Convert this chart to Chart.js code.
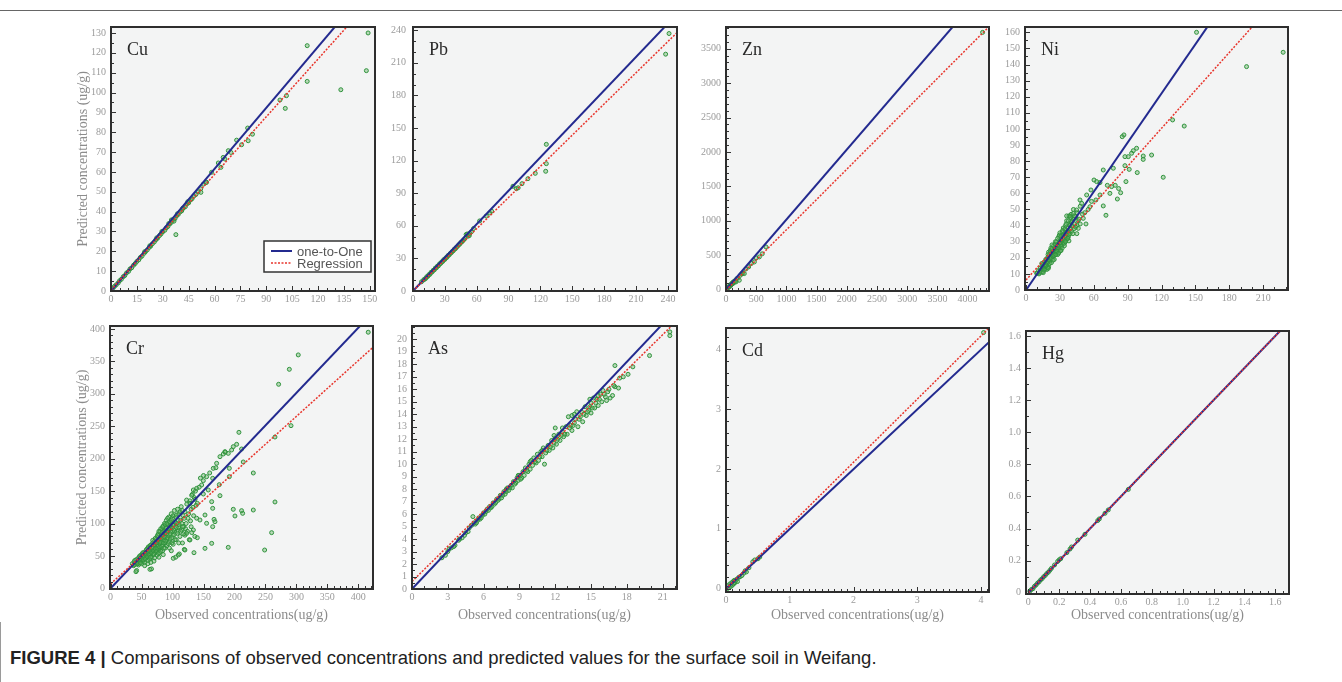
<!DOCTYPE html>
<html>
<head>
<meta charset="utf-8">
<script src="https://cdn.jsdelivr.net/npm/chart.js@4.4.1/dist/chart.umd.min.js"></script>
<style>
  body { margin: 0; background: #fff; width: 1342px; height: 682px; position: relative; overflow: hidden; }
  .topline { position: absolute; left: 0; top: 10px; width: 1342px; border-top: 1px solid #666; }
  .capbox { position: absolute; left: 0; top: 622px; width: 1342px; height: 60px; border-left: 1px solid #9a9a9a; }
  .caption { position: absolute; left: 10px; top: 647px; font-family: "Liberation Sans", Arial, sans-serif; font-size: 18.5px; color: #222; white-space: nowrap; }
  .caption b { font-weight: bold; }
  canvas { position: absolute; }
</style>
</head>
<body>
<div class="topline"></div>
<div class="capbox"></div>
<div class="caption"><b>FIGURE 4 |</b> Comparisons of observed concentrations and predicted values for the surface soil in Weifang.</div>

<script>
// [observed, predicted] pairs
const cuPoints = [
  [1.2,1.5],[2,2.3],[3,3.1],[4.2,4.1],[5,5.2],[6,5.9],[7.1,7.2],[8,7.8],[9,9.1],[10.2,9.9],[11,11.1],[12,11.7],
  [13.1,13],[14,13.8],[15,14.9],[16.1,15.7],[17,16.9],[18,17.6],[19.2,19],[20,19.8],[21,20.7],[22.1,21.9],[23,22.6],
  [24,23.8],[25.1,24.7],[26,25.8],[27,26.6],[28.1,27.9],[29,28.7],[30,29.8],[31.2,30.6],[32,31.8],[33,32.5],[34.1,33.8],
  [35,34.6],[36,35.9],[37.1,36.5],[38,37.8],[39,38.6],[40.2,39.9],[41,40.4],[42,41.8],[43.1,42.5],[44,43.9],[45,44.4],
  [46.2,45.9],[47,46.5],[48,47.8],[49.2,48.6],[50.5,49.9],[52,51.5],[53.5,53.8],[55,54.6],[36.5,35.2],[35,35.8],
  [38.5,38.9],[33.5,34],[41.5,41.6],[44.5,45],[29.5,30],[26.5,26.8],[22.5,22.8],[19.5,19.8],
  [37.6,28.4],[52.1,49.7],[55.4,54.8],[58.3,59.8],[62.2,64.5],[63.7,62.3],[65,67.3],[66,66.5],[68,70.7],[69.5,69.8],
  [72.8,76],[75.7,73.7],[79.2,82.1],[79.5,75.7],[82,79],[97.9,96.2],[101.7,98.4],[101,92],[113.7,123.6],
  [113.7,105.6],[133.2,101.4],[148,111],[149,130]
];
const pbPoints = [
  [8,8.5],[10,10.2],[11,11],[12,11.6],[13,13.2],[14,13.5],[15,15.1],[16,15.4],[17,17.2],[18,17.5],[19,19],[20,19.4],
  [21,21.1],[22,21.3],[23,22.9],[24,23.2],[25,25],[26,25.3],[27,26.8],[28,27.2],[29,28.9],[30,29.1],[31,30.6],[32,31],
  [33,32.7],[34,33.1],[35,34.5],[36,35.2],[37,36.4],[38,37.1],[39,38.6],[40,39],[41,40.4],[42,41.2],[43,42.5],[44,43.1],
  [45,44.6],[46,45.2],[47,46.3],[48,47.4],[49,48.5],[50,52],[51,52.5],[52,50.5],[53,51],[53.5,53],[55,54.5],[57,57.5],
  [62.7,64.5],[69,69],[72.2,71.8],[74,73.5],[94.1,96.4],[97.3,94.2],[99,95],[102.6,98.8],[108.2,103.4],[115.1,108.3],
  [124.9,110.2],[125.5,117.2],[125.5,135],[237.8,218],[241,237]
];
const znPoints = [
  [20,18],[30,25],[40,38],[50,40],[60,55],[70,50],[75,68],[80,70],[90,75],[95,88],[100,90],[110,85],[115,105],
  [120,110],[130,100],[140,125],[150,120],[165,112],[180,160],[200,170],[220,136],[240,210],[260,230],[280,240],
  [303,233],[330,300],[375,330],[420,380],[469,402],[500,460],[552,475],[600,520],[662,620],[4248,3737]
];
const niPoints = [
  [10,10.5],[11,12],[12,11],[12.5,13.5],[13,12.2],[14,14.8],[14.5,13],[15,16],[15.5,14.2],[16,15.5],[16.5,17.5],
  [17,16],[17.5,14.8],[18,18.5],[18.5,16.8],[19,20],[19.5,17.6],[20,19],[20.5,21.5],[21,18],[21.5,20.5],[22,22.8],
  [22.5,19.5],[23,21.6],[23.5,24.2],[24,20.8],[24.5,23],[25,25.8],[25.5,22.2],[26,24.5],[26.5,27],[27,23.5],
  [27.5,26],[28,28.5],[28.5,25],[29,27.4],[29.5,30.2],[30,26],[30.5,28.8],[31,31.6],[31.5,27.2],[32,30],[32.5,33.5],
  [33,29],[33.5,31.6],[34,35],[34.5,30.5],[35,33],[35.5,37],[36,31.8],[36.5,34.4],[37,38.6],[37.5,33],[38,36],
  [38.5,40.5],[39,35],[39.5,38],[40,42],[40.5,36.5],[41,39.6],[42,44],[42.5,38],[43,41],[44,45.5],[45,40],[46,43],
  [23,28],[26,30],[29,33],[32,36],[35,40],[25,19],[28,22],[31,24.5],[34,27.5],[38,30.5],[20,14.5],[17,13.2],
  [15,11.5],[18.5,12.8],[22,26],[20,23.5],[30,35.5],[36,43],[38,46],[40,47],[33,38.5],
  [11.5,10],[13.5,11],[14,16.5],[16,12.5],[17.5,19],[18,15],[19,14],[19.5,22],[21,16.5],[21.5,24.5],[22.5,17],
  [23,25.5],[24,18.5],[24.5,27.5],[25,21.5],[26,28.5],[26.5,22],[27,30],[27.5,24],[28,32],[29,23],[29.5,34],
  [30,29.5],[30.5,24.5],[31,33.5],[32,26],[32.5,37],[33,34],[34,29],[34.5,38],[35,30],[35.5,41],[36,36],[37,32],
  [37.5,43],[38,34.5],[39,40],[39.5,45],[41,43],[41.5,35],[43,46],[44,39],[45,48],[47,44],[48,52],[45,35],[50,47],
  [48,41],[42,50],[36,46],
  [151,160],[227.7,147.6],[195.3,138.7],[129.8,105.6],[140.1,101.8],[121.5,70],[111.2,83.8],[103.8,83.2],
  [103.8,81.1],[97.9,88],[95,86.5],[93.5,84.9],[90.6,82.8],[87.6,82.8],[86.7,96.3],[85.2,95.2],[87.6,77.2],
  [91.4,74.9],[88.5,67.3],[98.5,72.9],[83.8,60.4],[80.9,56.5],[77.3,75.6],[75.8,64.2],[74.3,60],[70.8,46.4],
  [68.4,74.5],[65.5,66.7],[62.5,67.3],[60.2,68.3],[57.5,62.1],[65.5,59],[68.4,52.2],[61.9,55.9],[53.7,59],
  [49.3,53.8],[47.8,55.9],[53.1,41],[44.8,49.7],[41.9,47.6],[38.9,45.9],[40.4,42.4],[50.7,44.5],[46.3,38.3],
  [56.6,51.7],[15.3,10.8],[19.8,13.5],[9.4,10.4],[79,65],[82,63],[72,65],[58,55],[55,50],[52,48]
];
const crPoints = [
  [35,38],[37,35],[38,41],[40,37],[41,44],[42,27.5],[43,40],[44,46],[45,36],[45,42],
  [46,48],[47,40],[48,44],[49,51],[50,38],[50,46],[51,53],[52,42],[53,49],[54,55],[55,45],[55,40],
  [56,52],[57,58],[58,47],[59,55],[60,62],[60,43],[61,50],[62,57],[63,64],[63,45],[64,53],[65,60],[65,67],[66,30],[66,48],
  [67,56],[68,63],[68,70],[69,52],[70,59],[70,66],[71,73],[71,47],[72,55],[73,62],[73,69],[74,76],[75,58],[75,51],[75,80],
  [76,65],[77,72],[77,84],[78,60],[79,69],[79,55],[80,76],[80,88],[81,63],[82,82],[82,71],[83,92],[84,58],[84,67],[85,78],[85,96],
  [86,74],[87,85],[87,100],[88,62],[88,70],[89,80],[90,93],[90,105],[91,76],[91,66],[92,88],[93,98],[93,82],[94,110],[95,72],[95,91],
  [96,84],[97,102],[98,95],[98,115],[99,78],[100,88],[100,108],[101,68],[102,98],[103,120],[103,83],[104,92],[105,110],[105,48],
  [106,75],[107,100],[108,122],[109,88],[110,95],[110,115],[111,53],[112,80],[113,105],[114,126],[115,90],[116,70],
  [117,112],[118,95],[119,60],[120,118],[120,82],[122,100],[123,130],[124,88],[125,108],[127,75],[128,135],[130,95],
  [130,122],[131,86],[132,145],[134,112],[135,140],[136,80],[137,150],[138,128],
  [38,36],[39,43],[42,39],[44,38],[46,44],[47,50],[48,39],[49,46],[51,48],[52,55],[53,44],[54,50],[56,46],[57,53],
  [58,60],[59,49],[60,56],[61,64],[62,52],[63,58],[64,66],[64,48],[66,55],[67,62],[68,74],[69,58],[70,53],[71,68],
  [72,77],[72,61],[74,57],[74,70],[76,82],[76,62],[77,54],[78,75],[78,88],[79,64],[80,71],[81,92],[81,57],[82,77],
  [83,65],[83,86],[84,95],[85,70],[86,62],[86,88],[87,79],[88,98],[89,73],[89,90],[90,84],[91,100],[92,78],[92,108],
  [93,69],[94,92],[95,103],[96,76],[96,96],[97,88],[98,105],[99,70],[100,98],[101,112],[101,82],[102,90],[104,102],
  [104,75],[106,113],[106,94],[108,85],[109,105],[111,98],[112,118],[113,88],[115,100],[116,120],[118,84],[119,108],
  [121,92],[126,115],[129,104],[133,125],[110,70],[95,62],[85,52],[98,58],[78,48],[70,42],[60,38],[55,35],[65,40],
  [416,395],[303,360],[288.6,337.8],[271.3,314.7],[291.3,250.9],[265.4,233.4],[265.4,133.2],[260,85.9],[248.7,59.1],
  [230.4,120.8],[230.4,177.9],[214.2,194.9],[211.5,214.9],[207.2,240.6],[203.5,222.1],[198.1,218.5],[195.4,213.4],
  [190,208.2],[184.6,210.8],[182,207.2],[176.6,203.1],[191.7,185.1],[191.7,172.2],[198.1,121.9],[200.8,111.6],
  [211.5,119.8],[213.2,115.7],[190,63.2],[171.2,192.8],[165.8,185.1],[164.8,169.7],[163.2,133.7],[164.8,123.4],
  [167,106.4],[168.5,102.8],[164.8,95.1],[163.2,69.4],[175.5,159.9],[176.6,142.9],[155,172.2],[149.7,166.1],
  [147,159.4],[149.7,145.5],[157.7,151.7],[152.4,113.1],[155,100.3],[152.4,61.7],[138.9,154.2],[133.6,151.7],
  [130.9,143.4],[136.3,137.3],[140,131.1],[128.1,131.1],[122.7,136.2],[138.9,108.2],[144.3,105.4],[133.6,90],
  [140,78.1],[134.6,55],[120,59.1],[109.3,51.4],[101.2,46.3],[116.3,95.1],[122.7,84.8],[128.1,74.6],[63.5,29.3],
  [40.9,25.7],[185,210],[143,156],[145,170],[160,178],[170,186],[150,174]
];
const asPoints = [
  [2.5,2.5],[2.8,2.7],[3,3],[3.3,3.3],[3.6,3.5],[3.9,3.9],[4.2,4.1],[4.5,4.5],[4.8,4.9],[5,5.1],[5.1,5.8],[5.3,5.2],
  [5.5,5.5],[5.7,5.6],[5.9,5.9],[6,6.1],[6.2,6.2],[6.4,6.3],[6.5,6.6],[6.7,6.6],[6.8,6.9],[7,6.9],[7.1,7.2],[7.3,7.2],
  [7.4,7.5],[7.6,7.5],[7.7,7.8],[7.9,7.8],[8,8.1],[8.1,7.9],[8.3,8.3],[8.4,8.1],[8.5,8.6],[8.7,8.5],[8.8,8.9],[8.9,8.7],
  [9,9.1],[9.2,8.9],[9.3,9.4],[9.4,9.1],[9.5,9.7],[9.7,9.4],[9.8,10],[9.9,9.6],[10,10.3],[10.1,9.9],[10.2,10.5],
  [10.4,10.1],[10.5,10.8],[10.6,10.3],[10.8,11],[10.9,10.6],[11,11.3],[11.1,10],[11.2,10.9],[11.4,11.5],[11.5,11.1],
  [11.7,11.9],[11.8,11.3],[12,12.1],[12,12.9],[12.1,11.6],[12.3,12.4],[12.4,11.9],[12.6,12.6],[12.7,12.2],[12.9,13],
  [13,12.4],[13.1,13.8],[13.2,12.9],[13.4,13.9],[13.4,12.7],[13.6,13.3],[13.8,14.2],[13.9,13],[14,13.6],[14.2,14.2],
  [14.3,13.4],[14.5,14.6],[14.6,13.9],[14.8,14.3],[15,14.9],[15,14.1],[15.2,15.3],[15.3,14.5],[15.5,15.2],[15.6,14.7],
  [15.8,15.6],[15.9,15],[16,15.9],[16.2,15.4],[16.4,15.8],[16.6,15.3],[16.8,15.5],[17,17.9],[17,16.2],[17.3,16.1],
  [17.4,16.9],[17.7,17],[18.1,17.2],[18.5,17.8],[19.9,18.7],[21.6,20.3],[21.6,20.6],
  [3.1,3.2],[3.5,3.4],[4,4],[4.4,4.3],[4.7,4.6],[5.2,5.3],[5.4,5.3],[5.6,5.7],[5.8,5.7],[6.1,6],[6.3,6.4],[6.6,6.5],
  [6.9,6.8],[7.2,7.1],[7.5,7.3],[7.8,7.6],[8.2,8.1],[8.6,8.4],[9.1,8.8],[9.6,9.5],[10.3,10.2],[10.7,10.6],[11.3,11.1],
  [11.6,11.4],[11.9,11.7],[12.2,12],[12.5,12.3],[12.8,12.4],[13.3,13.1],[13.5,13.1],[13.7,13.6],[14.1,13.8],[14.4,14],
  [14.7,14.2],[14.9,14.6],[15.1,14.5],[15.4,14.9],[15.7,15.2],[16.1,15.6],[16.3,15.1],[16.5,16],[16.9,16.3],[12.6,12.9],
  [11.9,12.3],[10.9,11.1],[9.9,10.2],[8.9,9.1],[7.9,8],[13.6,14],[14.9,15.2],[15.6,15.5]
];
const cdPoints = [
  [0.02,0],[0.03,0.05],[0.05,0.02],[0.06,0.08],[0.08,0.04],[0.09,0.1],[0.1,0.06],[0.11,0.12],[0.12,0.08],[0.13,0.14],
  [0.14,0.1],[0.15,0.13],[0.17,0.16],[0.18,0.12],[0.2,0.19],[0.22,0.2],[0.25,0.22],[0.28,0.26],[0.3,0.3],[0.32,0.28],
  [0.36,0.35],[0.42,0.45],[0.45,0.48],[0.5,0.5],[0.53,0.53],[4.04,4.28]
];
const hgPoints = [
  [0.01,0.01],[0.02,0.02],[0.03,0.025],[0.04,0.04],[0.05,0.048],[0.06,0.06],[0.07,0.068],[0.08,0.08],[0.09,0.088],
  [0.1,0.1],[0.11,0.108],[0.12,0.12],[0.13,0.128],[0.14,0.14],[0.15,0.152],[0.17,0.173],[0.19,0.195],[0.2,0.205],
  [0.21,0.212],[0.25,0.25],[0.27,0.272],[0.28,0.285],[0.32,0.328],[0.367,0.364],[0.45,0.45],[0.46,0.46],
  [0.497,0.495],[0.518,0.516],[0.648,0.644]
];

// line end points [observed, predicted]
const cuOneToOne = [[0,0],[153,156.9]];
const cuRegression = [[0,0.5],[153,148.9]];
const pbOneToOne = [[0,0],[248.5,255]];
const pbRegression = [[0,0],[248.5,237.8]];
const znOneToOne = [[0,0],[4354,4428]];
const znRegression = [[0,-10],[4354,3820]];
const niOneToOne = [[0,0],[232,236]];
const niRegression = [[0,6.2],[232,188.3]];
const crOneToOne = [[0,0],[424,426]];
const crRegression = [[0,7],[424,372]];
const asOneToOne = [[0,0],[22.2,22.45]];
const asRegression = [[0,0.6],[22.2,21.5]];
const cdOneToOne = [[0,0],[4.125,4.12]];
const cdRegression = [[0,0],[4.125,4.356]];
const hgOneToOne = [[0,0],[1.7,1.7]];
const hgRegression = [[0,0],[1.7,1.7]];

// tick values
const cuXTicks = [0,15,30,45,60,75,90,105,120,135,150];
const cuYTicks = [0,10,20,30,40,50,60,70,80,90,100,110,120,130];
const pbTicks = [0,30,60,90,120,150,180,210,240];
const znXTicks = [0,500,1000,1500,2000,2500,3000,3500,4000];
const znYTicks = [0,500,1000,1500,2000,2500,3000,3500];
const niXTicks = [0,30,60,90,120,150,180,210];
const niYTicks = [0,10,20,30,40,50,60,70,80,90,100,110,120,130,140,150,160];
const crTicks = [0,50,100,150,200,250,300,350,400];
const asXTicks = [0,3,6,9,12,15,18,21];
const asYTicks = [0,1,2,3,4,5,6,7,8,9,10,11,12,13,14,15,16,17,18,19,20];
const cdTicks = [0,1,2,3,4];
const hgTicks = [0,0.2,0.4,0.6,0.8,1.0,1.2,1.4,1.6];
const hgTickLabels = ['0','0.2','0.4','0.6','0.8','1.0','1.2','1.4','1.6'];

const panels = [
  { name: 'Cu', box: [111, 27, 375, 291], x: [0, 153], y: [0, 133], xTicks: cuXTicks, yTicks: cuYTicks, xMinor: 5, yMinor: 5,
    pts: cuPoints, line11: cuOneToOne, reg: cuRegression, yTitle: true, legend: true },
  { name: 'Pb', box: [413, 27, 677, 291], x: [0, 248.5], y: [0, 243], xTicks: pbTicks, yTicks: pbTicks, xMinor: 10, yMinor: 10,
    pts: pbPoints, line11: pbOneToOne, reg: pbRegression, yPad: 7 },
  { name: 'Zn', box: [726, 27, 989, 291], x: [0, 4354], y: [-20, 3815], xTicks: znXTicks, yTicks: znYTicks, xMinor: 100, yMinor: 100,
    pts: znPoints, line11: znOneToOne, reg: znRegression },
  { name: 'Ni', box: [1025, 27, 1288, 290], x: [-0.9, 232], y: [0, 163.3], xTicks: niXTicks, yTicks: niYTicks, xMinor: 10, yMinor: 5,
    pts: niPoints, line11: niOneToOne, reg: niRegression },
  { name: 'Cr', box: [110, 326, 373, 589], x: [-1, 423.7], y: [-1, 404.6], xTicks: crTicks, yTicks: crTicks, xMinor: 10, yMinor: 10,
    pts: crPoints, line11: crOneToOne, reg: crRegression, yTitle: true, xTitle: true },
  { name: 'As', box: [412, 326, 677, 589], x: [0, 22.2], y: [0, 21.07], xTicks: asXTicks, yTicks: asYTicks, xMinor: 1, yMinor: 0.5,
    pts: asPoints, line11: asOneToOne, reg: asRegression, xTitle: true },
  { name: 'Cd', box: [726, 328, 989, 592], x: [0, 4.125], y: [-0.055, 4.356], xTicks: cdTicks, yTicks: cdTicks, xMinor: 0.1, yMinor: 0.2,
    pts: cdPoints, line11: cdOneToOne, reg: cdRegression, xTitle: true },
  { name: 'Hg', box: [1026, 331, 1289, 594], x: [-0.015, 1.689], y: [-0.008, 1.631], xTicks: hgTicks, yTicks: hgTicks, xMinor: 0.05, yMinor: 0.1,
    pts: hgPoints, line11: hgOneToOne, reg: hgRegression, xTitle: true, labels: hgTickLabels }
];

const toXY = arr => arr.map(p => ({ x: p[0], y: p[1] }));

const panelDeco = {
  id: 'panelDeco',
  beforeDatasetsDraw(chart) {
    const a = chart.chartArea, ctx = chart.ctx;
    ctx.save();
    ctx.fillStyle = '#f3f4f4';
    ctx.fillRect(a.left, a.top, a.right - a.left, a.bottom - a.top);
    ctx.restore();
  },
  afterDatasetsDraw(chart, args, opts) {
    const a = chart.chartArea, ctx = chart.ctx;
    const xs = chart.scales.x, ys = chart.scales.y;
    ctx.save();
    ctx.strokeStyle = '#333';
    ctx.lineWidth = 1;
    ctx.beginPath();
    for (let k = Math.ceil(xs.min / opts.xMinor - 1e-6); k * opts.xMinor <= xs.max + 1e-9; k++) {
      const v = k * opts.xMinor;
      const major = opts.xTicks.some(t => Math.abs(t - v) < opts.xMinor / 10);
      const px = Math.round(xs.getPixelForValue(v)) + 0.5;
      ctx.moveTo(px, a.bottom);
      ctx.lineTo(px, a.bottom - (major ? 5 : 3));
    }
    for (let k = Math.ceil(ys.min / opts.yMinor - 1e-6); k * opts.yMinor <= ys.max + 1e-9; k++) {
      const v = k * opts.yMinor;
      const major = opts.yTicks.some(t => Math.abs(t - v) < opts.yMinor / 10);
      const py = Math.round(ys.getPixelForValue(v)) + 0.5;
      ctx.moveTo(a.left, py);
      ctx.lineTo(a.left + (major ? 5 : 3), py);
    }
    ctx.stroke();

    ctx.lineWidth = 2;
    ctx.strokeStyle = '#2e2e2e';
    ctx.strokeRect(a.left, a.top, a.right - a.left, a.bottom - a.top);

    ctx.fillStyle = '#2a2a2a';
    ctx.font = '18px "Liberation Serif"';
    ctx.textBaseline = 'middle';
    ctx.fillText(opts.name, a.left + 16, a.top + 23);

    if (opts.legend) {
      const bw = 107, bh = 31;
      const bx = a.right - 4 - bw, by = a.bottom - 19 - bh;
      ctx.fillStyle = '#fff';
      ctx.fillRect(bx, by, bw, bh);
      ctx.lineWidth = 1.5;
      ctx.strokeStyle = '#333';
      ctx.strokeRect(bx, by, bw, bh);
      const items = [chart.data.datasets[1], chart.data.datasets[0]];
      items.forEach((ds, i) => {
        const ly = by + 10 + i * 12;
        ctx.beginPath();
        ctx.setLineDash(ds.borderDash || []);
        ctx.strokeStyle = ds.borderColor;
        ctx.lineWidth = ds.borderWidth;
        ctx.moveTo(bx + 7, ly);
        ctx.lineTo(bx + 28, ly);
        ctx.stroke();
        ctx.setLineDash([]);
        ctx.fillStyle = '#555';
        ctx.font = '13px "Liberation Sans"';
        ctx.fillText(ds.label, bx + 33, ly + 1);
      });
    }
    ctx.restore();
  }
};

function makeChart(p) {
  const yW = p.yTitle ? 40 : 30;
  const padTop = 10, padRight = 14;
  const xH = p.xTitle ? 628 - p.box[3] : 20;
  const w = yW + (p.box[2] - p.box[0]) + padRight;
  const h = padTop + (p.box[3] - p.box[1]) + xH;

  const canvas = document.createElement('canvas');
  canvas.width = w;
  canvas.height = h;
  canvas.style.left = (p.box[0] - yW) + 'px';
  canvas.style.top = (p.box[1] - padTop) + 'px';
  canvas.style.width = w + 'px';
  canvas.style.height = h + 'px';
  document.body.appendChild(canvas);

  const tickFont = { family: 'Liberation Serif', size: 10 };
  const titleFont = { family: 'Liberation Serif', size: 14 };
  const label = (v, i) => p.labels ? p.labels[i] : String(v);

  new Chart(canvas, {
    type: 'scatter',
    data: {
      datasets: [
        { label: 'Regression', data: toXY(p.reg), showLine: true, borderColor: '#e8352c', borderWidth: 1.5,
          borderDash: [2, 1.5], pointRadius: 0, order: 1 },
        { label: 'one-to-One', data: toXY(p.line11), showLine: true, borderColor: '#232a8f', borderWidth: 2,
          pointRadius: 0, order: 2 },
        { label: 'samples', data: toXY(p.pts), pointRadius: 2, pointBorderWidth: 1,
          pointBackgroundColor: 'rgba(90,175,90,0.4)', pointBorderColor: '#31943e', order: 3 }
      ]
    },
    options: {
      responsive: false,
      animation: false,
      devicePixelRatio: 1,
      events: [],
      layout: { padding: { top: padTop, right: padRight, left: 0, bottom: 0 } },
      plugins: {
        legend: { display: false },
        tooltip: { enabled: false },
        panelDeco: { name: p.name, xMinor: p.xMinor, yMinor: p.yMinor, xTicks: p.xTicks, yTicks: p.yTicks, legend: !!p.legend }
      },
      scales: {
        x: {
          type: 'linear', min: p.x[0], max: p.x[1],
          grid: { display: false, drawTicks: false }, border: { display: false },
          afterBuildTicks: s => { s.ticks = p.xTicks.map(v => ({ value: v })); },
          afterFit: s => { s.height = xH; s.paddingLeft = 0; s.paddingRight = 0; },
          ticks: { autoSkip: false, maxRotation: 0, padding: 2, color: '#9a9a9a', font: tickFont, callback: label },
          title: { display: !!p.xTitle, text: 'Observed concentrations(ug/g)', color: '#8c8c8c', font: titleFont, padding: { top: 4, bottom: 4 } }
        },
        y: {
          type: 'linear', min: p.y[0], max: p.y[1],
          grid: { display: false, drawTicks: false }, border: { display: false },
          afterBuildTicks: s => { s.ticks = p.yTicks.map(v => ({ value: v })); },
          afterFit: s => { s.width = yW; s.paddingTop = 0; s.paddingBottom = 0; },
          ticks: { autoSkip: false, padding: p.yPad || 5, color: '#9a9a9a', font: tickFont, callback: label },
          title: { display: !!p.yTitle, text: 'Predicted concentrations (ug/g)', color: '#8c8c8c', font: titleFont, padding: { top: 4, bottom: 4 } }
        }
      }
    },
    plugins: [panelDeco]
  });
}

panels.forEach(makeChart);
</script>
</body>
</html>
